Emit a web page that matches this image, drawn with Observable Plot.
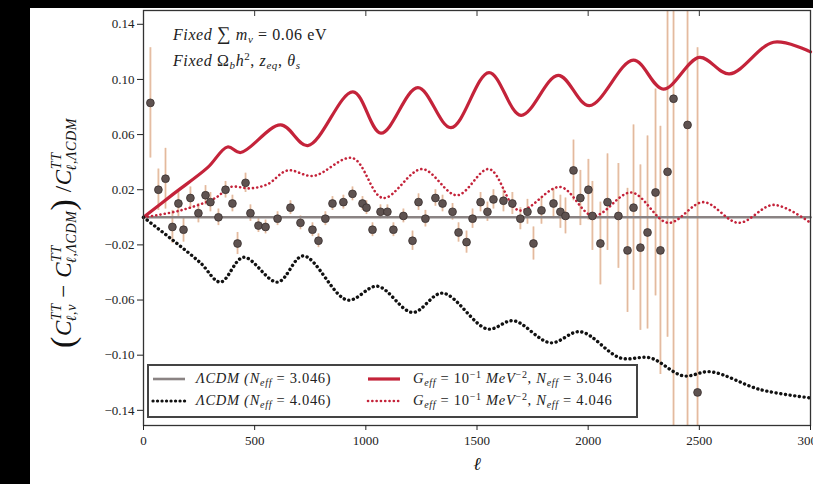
<!DOCTYPE html>
<html><head><meta charset="utf-8">
<script src="https://cdn.jsdelivr.net/npm/d3@7"></script>
<script src="https://cdn.jsdelivr.net/npm/@observablehq/plot@0.6"></script>
<style>
html,body{margin:0;padding:0;background:#000;width:813px;height:484px;overflow:hidden}
#fig{position:absolute;left:30px;top:8px;width:783px;height:476px;background:#fff;overflow:hidden}
</style></head><body><div id="fig"></div>
<script>
// ---- data ----
const xTicks = [0, 500, 1000, 1500, 2000, 2500, 3000];
const yTicks = [-0.14, -0.10, -0.06, -0.02, 0.02, 0.06, 0.10, 0.14];

// G_eff, N_eff = 3.046 (red solid)
const ellA = [0, 135, 288, 378, 437, 617, 739, 942, 1068, 1234, 1383, 1554, 1698, 1865, 2005, 2203, 2338, 2500, 2635, 2834, 3000];
const devA = [0.000, 0.017, 0.036, 0.051, 0.047, 0.067, 0.052, 0.091, 0.061, 0.094, 0.065, 0.105, 0.074, 0.103, 0.081, 0.114, 0.093, 0.116, 0.104, 0.127, 0.120];

// G_eff, N_eff = 4.046 (red dotted)
const ellB = [0, 166, 323, 391, 481, 558, 648, 764, 940, 1077, 1252, 1410, 1554, 1689, 1874, 2023, 2194, 2360, 2518, 2676, 2834, 3000];
const devB = [0.000, 0.005, 0.014, 0.022, 0.021, 0.024, 0.034, 0.030, 0.043, 0.014, 0.035, 0.016, 0.035, 0.005, 0.022, 0.001, 0.018, -0.004, 0.011, -0.004, 0.009, -0.004];

// LCDM, N_eff = 4.046 (black dotted)
const ellC = [0, 135, 256, 346, 450, 603, 719, 917, 1052, 1210, 1345, 1547, 1664, 1830, 1965, 2145, 2280, 2428, 2550, 2775, 3000];
const devC = [0.000, -0.017, -0.033, -0.047, -0.029, -0.047, -0.028, -0.060, -0.050, -0.069, -0.055, -0.081, -0.075, -0.091, -0.083, -0.102, -0.102, -0.115, -0.112, -0.125, -0.131];

// LCDM, N_eff = 3.046 (reference, grey)
const ellRef = [0, 3000];
const devRef = [0, 0];

// measured points with error bars
const ellPts = [31, 67, 99, 130, 157, 180, 211, 247, 279, 301, 337, 369, 400, 423, 459, 481, 517, 549, 603, 661, 706, 760, 787, 818, 850, 899, 940, 985, 1003, 1030, 1066, 1097, 1124, 1169, 1210, 1237, 1268, 1313, 1345, 1390, 1417, 1453, 1480, 1516, 1547, 1574, 1619, 1659, 1695, 1727, 1754, 1790, 1844, 1875, 1898, 1934, 1965, 2001, 2019, 2055, 2087, 2136, 2177, 2204, 2235, 2267, 2303, 2325, 2357, 2384, 2447, 2492];
const devPts = [0.083, 0.020, 0.028, -0.007, 0.010, -0.009, 0.014, 0.003, 0.016, 0.011, 0.000, 0.020, 0.010, -0.019, 0.025, 0.003, -0.006, -0.007, -0.001, 0.007, -0.004, -0.009, -0.017, -0.001, 0.010, 0.011, 0.017, 0.010, 0.007, -0.009, 0.004, 0.004, -0.009, 0.001, -0.017, 0.011, -0.001, 0.014, 0.010, 0.004, -0.011, -0.018, -0.001, 0.011, 0.004, 0.013, 0.012, 0.010, -0.001, 0.004, -0.019, 0.005, 0.010, 0.004, 0.001, 0.034, 0.014, 0.020, 0.001, -0.019, 0.011, 0.001, -0.024, 0.007, -0.022, -0.011, 0.018, -0.024, 0.033, 0.086, 0.067, -0.127];
const errPts = [0.040, 0.015, 0.022, 0.012, 0.010, 0.009, 0.008, 0.007, 0.007, 0.007, 0.006, 0.006, 0.006, 0.008, 0.007, 0.006, 0.005, 0.005, 0.005, 0.005, 0.005, 0.005, 0.005, 0.005, 0.005, 0.005, 0.005, 0.005, 0.005, 0.005, 0.005, 0.005, 0.005, 0.005, 0.007, 0.006, 0.006, 0.006, 0.006, 0.006, 0.007, 0.008, 0.007, 0.007, 0.007, 0.007, 0.008, 0.008, 0.008, 0.009, 0.012, 0.010, 0.011, 0.012, 0.013, 0.022, 0.020, 0.022, 0.025, 0.030, 0.035, 0.038, 0.045, 0.060, 0.060, 0.070, 0.075, 0.090, 0.120, 0.250, 0.220, 0.250];

// ---- build tables ----
const zip = (xs, ys) => xs.map((x, i) => ({ell: x, dev: ys[i]}));
const lineA = zip(ellA, devA), lineB = zip(ellB, devB), lineC = zip(ellC, devC), lineRef = zip(ellRef, devRef);
const pts = ellPts.map((x, i) => ({ell: x, dev: devPts[i], err: errPts[i]}));

const RED = "#c4233a";
const fmt = d => (d < 0 ? "\u2212" : "") + Math.abs(d).toFixed(2);

const svg = Plot.plot({
  width: 783, height: 476,
  marginLeft: 113, marginRight: 3, marginTop: 2, marginBottom: 59,
  style: {fontFamily: "'Liberation Serif', serif", fontSize: "13px", color: "#222", background: "white"},
  x: {domain: [0, 3000]},
  y: {domain: [-0.151, 0.150]},
  marks: [
    Plot.ruleX(pts, {x: "ell", y1: d => d.dev - d.err, y2: d => d.dev + d.err, stroke: "#f4dfcf", strokeWidth: 2.6, clip: true}),
    Plot.ruleX(pts, {x: "ell", y1: d => d.dev - d.err, y2: d => d.dev + d.err, stroke: "#d9a585", strokeWidth: 0.9, strokeOpacity: 0.75, clip: true}),
    Plot.line(lineRef, {x: "ell", y: "dev", stroke: "#8a8383", strokeWidth: 2.6}),
    Plot.line(lineA, {x: "ell", y: "dev", curve: "catmull-rom", stroke: RED, strokeWidth: 3.2}),
    Plot.line(lineB, {x: "ell", y: "dev", curve: "catmull-rom", stroke: RED, strokeWidth: 2.6, strokeDasharray: "0.1,4.2", strokeLinecap: "round"}),
    Plot.line(lineC, {x: "ell", y: "dev", curve: "catmull-rom", stroke: "#111", strokeWidth: 3.4, strokeDasharray: "0.1,4.6", strokeLinecap: "round"}),
    Plot.dot(pts, {x: "ell", y: "dev", r: 3.9, fill: "#5e5250", stroke: "#3a302e", strokeWidth: 0.8}),
    Plot.frame({stroke: "#333", strokeWidth: 1.3}),
    Plot.tickX(xTicks, {x: d => d, insetBottom: 409, stroke: "#333"}),
    Plot.axisY(yTicks, {tickSize: 6, tickPadding: 3, tickFormat: fmt, label: null, fontSize: 13}),
    Plot.axisX(xTicks, {tickSize: 5, tickPadding: 5, tickFormat: d => String(d), label: null, fontSize: 13})
  ]
});
document.getElementById("fig").appendChild(svg);

// ---- text annotations ----
const S = d3.select(svg);
const serif = "'Liberation Serif', serif";

function runs(textSel, parts) {
  parts.forEach(p => {
    const t = textSel.append("tspan").text(p[0]);
    const o = p[1] || {};
    if (o.italic) t.attr("font-style", "italic");
    if (o.size) t.attr("font-size", o.size);
    if (o.dx != null) t.attr("dx", o.dx);
    if (o.dy != null) t.attr("dy", o.dy);
  });
}

// y-axis label
const yl = S.append("text").attr("transform", "translate(41,225) rotate(-90)")
  .attr("text-anchor", "middle").attr("font-family", serif).attr("font-size", 23).attr("fill", "#111")
  .attr("letter-spacing", 0.6);
runs(yl, [
  ["(", {size: 34, dy: 3}],
  ["C", {italic: true, size: 23, dy: -3}],
  ["TT", {italic: true, size: 14, dy: -10}],
  ["\u2113,\u03bd", {italic: true, size: 14, dx: -18, dy: 15}],
  [" \u2212 ", {size: 23, dy: -5}],
  ["C", {italic: true, size: 23}],
  ["TT", {italic: true, size: 14, dy: -10}],
  ["\u2113,\u039bCDM", {italic: true, size: 14, dx: -18, dy: 15}],
  [")", {size: 34, dy: -2}],
  [" /", {size: 23, dy: -3}],
  ["C", {italic: true, size: 23}],
  ["TT", {italic: true, size: 14, dy: -10}],
  ["\u2113,\u039bCDM", {italic: true, size: 14, dx: -18, dy: 15}]
]);

// x-axis label
S.append("text").attr("x", 447).attr("y", 462).attr("text-anchor", "middle")
  .attr("font-family", serif).attr("font-style", "italic").attr("font-size", 18).attr("fill", "#111").text("\u2113");

// top-left note
const n1 = S.append("text").attr("x", 143).attr("y", 32).attr("text-anchor", "start").attr("font-family", serif).attr("font-size", 16).attr("letter-spacing", 0.6).attr("fill", "#222");
runs(n1, [["Fixed ", {italic: true}], ["\u2211", {size: 19}], [" m", {italic: true}], ["\u03bd", {italic: true, size: 11, dy: 3}], [" = 0.06 eV", {dy: -3}]]);
const n2 = S.append("text").attr("x", 143).attr("y", 58).attr("text-anchor", "start").attr("font-family", serif).attr("font-size", 16).attr("letter-spacing", 0.6).attr("fill", "#222");
runs(n2, [["Fixed ", {italic: true}], ["\u03a9", {}], ["b", {italic: true, size: 11, dy: 3}], ["h", {italic: true, dy: -3}], ["2", {size: 11, dy: -6}], [", ", {dy: 6}], ["z", {italic: true}], ["eq", {italic: true, size: 11, dy: 3}], [", ", {dy: -3}], ["\u03b8", {italic: true}], ["s", {italic: true, size: 11, dy: 3}]]);

// legend
const lg = S.append("g");
lg.append("rect").attr("x", 118).attr("y", 357).attr("width", 489).attr("height", 52)
  .attr("fill", "white").attr("stroke", "#444").attr("stroke-width", 2);
const rowY = [371, 393];
const sample = (x, y, stroke, w, dash) => {
  const l = lg.append("line").attr("x1", x).attr("x2", x + 32).attr("y1", y).attr("y2", y)
    .attr("stroke", stroke).attr("stroke-width", w);
  if (dash) l.attr("stroke-dasharray", dash).attr("stroke-linecap", "round");
};
sample(123, rowY[0], "#8a8383", 2.6);
sample(123, rowY[1], "#111", 3.2, "0.1,4.4");
sample(338, rowY[0], RED, 3.2);
sample(338, rowY[1], RED, 2.6, "0.1,4.2");
function legText(x, y, neff, gee) {
  const t = lg.append("text").attr("x", x).attr("y", y + 4).attr("text-anchor", "start").attr("font-family", serif)
    .attr("font-size", 14.5).attr("letter-spacing", 0.7).attr("fill", "#222");
  if (gee) {
    runs(t, [["G", {italic: true}], ["eff", {italic: true, size: 10, dy: 3}], [" = 10", {dy: -3}], ["\u22121", {size: 10, dy: -5}], [" MeV", {italic: true, dy: 5}], ["\u22122", {size: 10, dy: -5}], [", ", {dy: 5}], ["N", {italic: true}], ["eff", {italic: true, size: 10, dy: 3}], [" = " + neff, {dy: -3}]]);
  } else {
    runs(t, [["\u039bCDM (", {italic: true}], ["N", {italic: true}], ["eff", {italic: true, size: 10, dy: 3}], [" = " + neff + ")", {dy: -3}]]);
  }
}
legText(166, rowY[0], "3.046", false);
legText(166, rowY[1], "4.046", false);
legText(383, rowY[0], "3.046", true);
legText(383, rowY[1], "4.046", true);
</script>
</body></html>
